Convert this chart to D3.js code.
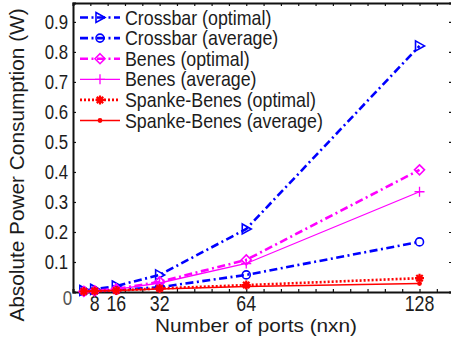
<!DOCTYPE html>
<html>
<head>
<meta charset="utf-8">
<script src="https://cdn.jsdelivr.net/npm/d3@7"></script>
<style>
  html, body { margin: 0; padding: 0; background: #fff; }
  svg { display: block; }
  text { font-family: "Liberation Sans", Arial, sans-serif; fill: #1c1c1c; }
</style>
</head>
<body>
<svg id="chart" width="451" height="341"></svg>
<script>
// Switch sizes (n x n ports)
const ports = [4, 8, 16, 32, 64, 128];
const portTicks = [8, 16, 32, 64, 128];
const powerTicks = [0.1, 0.2, 0.3, 0.4, 0.5, 0.6, 0.7, 0.8, 0.9];

// Absolute power consumption (W) per architecture
const crossbarOptimal   = [0.005, 0.009, 0.020, 0.057, 0.210, 0.820];
const crossbarAverage   = [0.002, 0.004, 0.007, 0.016, 0.057, 0.167];
const benesOptimal      = [0.002, 0.004, 0.010, 0.034, 0.107, 0.407];
const benesAverage      = [0.001, 0.003, 0.009, 0.030, 0.095, 0.334];
const spankeOptimal     = [0.002, 0.003, 0.005, 0.012, 0.023, 0.046];
const spankeAverage     = [0.002, 0.003, 0.005, 0.010, 0.018, 0.028];

const seriesNames = [
  "Crossbar (optimal)", "Crossbar (average)",
  "Benes (optimal)", "Benes (average)",
  "Spanke-Benes (optimal)", "Spanke-Benes (average)"
];
const seriesValues = [crossbarOptimal, crossbarAverage, benesOptimal, benesAverage, spankeOptimal, spankeAverage];

const styles = [
  { color: "#0000ff", width: 2.6, dash: "8,3.5,2,3.5", marker: "triangle" },
  { color: "#0000ff", width: 2.6, dash: "8,3.5,2,3.5", marker: "circle" },
  { color: "#ff00ff", width: 2.6, dash: "8,3.5,2,3.5", marker: "diamond" },
  { color: "#ff00ff", width: 1.3, dash: null,          marker: "plus" },
  { color: "#ff0000", width: 2.6, dash: "2,2",         marker: "star" },
  { color: "#ff0000", width: 1.5, dash: null,          marker: "dot" }
];

const svg = d3.select("#chart");
const x = d3.scaleLinear().domain([0, 140]).range([73, 452]);
const y = d3.scaleLinear().domain([0, 0.963]).range([292, 3]);

// Text placed at a baseline point, optionally stretched along x or y
function label(parent, tx, ty, str, size, opts = {}) {
  const sx = opts.sx || 1, sy = opts.sy || 1, rot = opts.rotate || 0;
  return parent.append("text")
    .attr("transform", `translate(${tx},${ty}) rotate(${rot}) scale(${sx},${sy})`)
    .attr("text-anchor", opts.anchor || "start")
    .attr("font-size", size)
    .text(str);
}

// Frame: box with inward ticks on all four sides
const frame = svg.append("g");
const minorX = d3.range(0, 141, 6.4);
const axisBottom = frame.append("g").attr("transform", `translate(0,${y(0)})`)
  .call(d3.axisBottom(x).tickValues(minorX).tickSize(-3).tickFormat(""));
const axisTop = frame.append("g").attr("transform", `translate(0,${y.range()[1]})`)
  .call(d3.axisTop(x).tickValues(minorX).tickSize(-3).tickFormat(""));
const axisLeft = frame.append("g").attr("transform", `translate(${x(0)},0)`)
  .call(d3.axisLeft(y).tickValues(powerTicks).tickSize(-3).tickFormat(""));
const axisRight = frame.append("g").attr("transform", `translate(${x.range()[1]},0)`)
  .call(d3.axisRight(y).tickValues(powerTicks).tickSize(-3).tickFormat(""));
[axisBottom, axisTop, axisLeft, axisRight].forEach(g => {
  g.select(".domain").attr("stroke", "#111").attr("stroke-width", 2);
  g.selectAll(".tick line").attr("stroke", "#111").attr("stroke-width", 1.2);
});

// Tick labels
const labels = svg.append("g");
powerTicks.forEach(d => {
  label(labels, 68, y(d) + 7, d3.format(".1f")(d), 16.8, { anchor: "end", sy: 1.2 });
});
label(labels, 67.5, 305, "0", 17, { anchor: "middle", sy: 1.2 }).style("fill", "#555");
portTicks.forEach(d => {
  label(labels, x(d), 310.5, String(d), 17.8, { anchor: "middle", sy: 1.22 });
});

// Axis titles
label(svg, 256, 331.5, "Number of ports (nxn)", 17.6, { anchor: "middle", sx: 1.18 });
label(svg, 24, 165, "Absolute Power Consumption (W)", 20.8, { anchor: "middle", rotate: -90 });

// Marker drawing
function drawMarker(g, kind, color) {
  switch (kind) {
    case "triangle":
      g.append("path").attr("d", "M-4,-5L5,0L-4,5Z")
        .attr("fill", "none").attr("stroke", color).attr("stroke-width", 1.6);
      break;
    case "circle":
      g.append("circle").attr("r", 4)
        .attr("fill", "none").attr("stroke", color).attr("stroke-width", 1.6);
      break;
    case "diamond":
      g.append("path").attr("d", "M0,-5L5,0L0,5L-5,0Z")
        .attr("fill", "none").attr("stroke", color).attr("stroke-width", 1.6);
      break;
    case "plus":
      g.append("path").attr("d", "M-5,0H5M0,-5V5")
        .attr("stroke", color).attr("stroke-width", 1.3);
      break;
    case "star":
      g.append("path").attr("d", "M-4.5,0H4.5M0,-4.5V4.5M-3.2,-3.2L3.2,3.2M-3.2,3.2L3.2,-3.2")
        .attr("stroke", color).attr("stroke-width", 2.2);
      break;
    case "dot":
      g.append("circle").attr("r", 2.4).attr("fill", color);
      break;
  }
}

// Data lines with markers at each switch size
const line = d3.line().x((d, i) => x(ports[i])).y(d => y(d));
const plot = svg.append("g");
seriesValues.forEach((vals, k) => {
  const s = styles[k];
  const g = plot.append("g");
  g.append("path").datum(vals).attr("d", line)
    .attr("fill", "none").attr("stroke", s.color)
    .attr("stroke-width", s.width)
    .attr("stroke-dasharray", s.dash);
  vals.forEach((v, i) => {
    drawMarker(g.append("g").attr("transform", `translate(${x(ports[i])},${y(v)})`), s.marker, s.color);
  });
});

// Legend (no surrounding box)
const legend = svg.append("g");
seriesNames.forEach((name, k) => {
  const s = styles[k];
  const cy = 17.5 + k * 20.6;
  const row = legend.append("g");
  row.append("line").attr("x1", 80).attr("x2", 120).attr("y1", cy).attr("y2", cy)
    .attr("stroke", s.color).attr("stroke-width", s.width)
    .attr("stroke-dasharray", s.dash);
  drawMarker(row.append("g").attr("transform", `translate(100,${cy})`), s.marker, s.color);
  label(row, 125, cy + 7, name, 17.8, { sy: 1.1 });
});
</script>
</body>
</html>
